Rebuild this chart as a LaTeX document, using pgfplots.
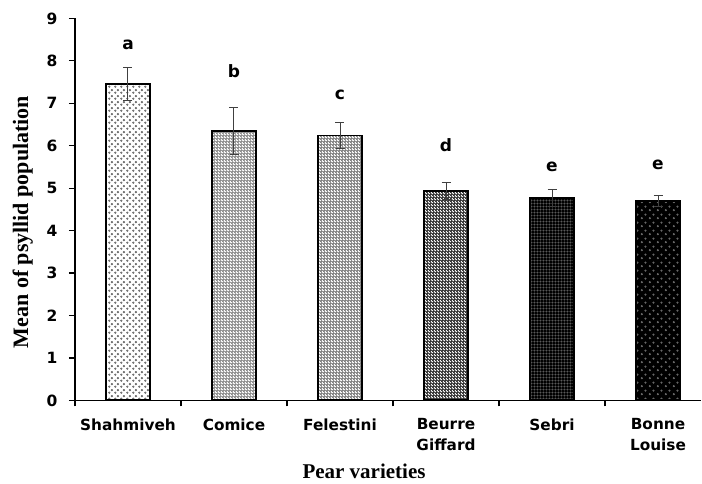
\documentclass[border=0pt]{standalone}
\usepackage{pgfplots}
\pgfplotsset{compat=1.18}
\usepackage{fontspec}
\setmainfont{Liberation Serif}
\newfontfamily\dvs{DejaVu Sans}
\usetikzlibrary{patterns.meta}
\tikzdeclarepattern{
  name=sdots,
  type=uncolored,
  parameters={\sdotd,\sdotr},
  bounding box={(0,0) and (\sdotd,\sdotd)},
  tile size={(\sdotd,\sdotd)},
  defaults={d/.store in=\sdotd, d=4pt, r/.store in=\sdotr, r=0.5pt},
  code={
    \fill (0.25*\sdotd,0.25*\sdotd) circle[radius=\sdotr];
    \fill (0.75*\sdotd,0.75*\sdotd) circle[radius=\sdotr];
  }
}
\tikzdeclarepattern{
  name=gdots,
  type=uncolored,
  parameters={\gdotd,\gdotr},
  bounding box={(0,0) and (\gdotd,\gdotd)},
  tile size={(\gdotd,\gdotd)},
  defaults={d/.store in=\gdotd, d=4pt, r/.store in=\gdotr, r=0.5pt},
  code={
    \fill (0.5*\gdotd,0.5*\gdotd) circle[radius=\gdotr];
  }
}
\begin{document}
\begin{tikzpicture}
\begin{axis}[
  scale only axis,
  width=626pt, height=382pt,
  xmin=-0.5, xmax=5.4057,
  ymin=0, ymax=9,
  axis x line*=bottom, axis y line*=left,
  axis line style={-, line width=1.3pt, black},
  xtick={0,1,2,3,4,5},
  xticklabels={Shahmiveh, Comice, Felestini, {Beurre\\Giffard}, Sebri, {Bonne\\Louise}},
  major x tick style={draw=none},
  minor xtick={-0.5,0.5,1.5,2.5,3.5,4.5},
  minor x tick style={line width=1.3pt, black},
  ytick={0,1,...,9},
  major y tick style={line width=1.3pt, black},
  tick align=outside,
  major tick length=6pt, minor tick length=6pt,
  /pgf/number format/assume math mode=true,
  yticklabel style={font=\dvs\bfseries\fontsize{15.5}{17}\selectfont, xshift=-8pt},
  xticklabel style={font=\dvs\bfseries\fontsize{15.3}{20.5}\selectfont, align=center, anchor=north, inner sep=0pt, yshift=-12pt},
  xlabel={Pear varieties},
  ylabel={Mean of psyllid population},
  xlabel style={font=\bfseries\fontsize{21}{24}\selectfont, at={(axis description cs:0.4617,-0.2055)}, anchor=base},
  ylabel style={font=\bfseries\fontsize{22}{24}\selectfont, at={(axis description cs:-0.075,0.467)}, anchor=base},
  every axis plot/.append style={bar width=43.5pt, bar shift=0pt},
  clip=false,
]
% Shahmiveh
\addplot[ybar, draw=black, line width=1.8pt, preaction={fill=white}, pattern color=black!55, pattern={sdots[d=6pt,r=0.55pt]},
  error bars/.cd, y dir=both, y explicit,
  error bar style={line width=1pt, black!75},
  error mark options={rotate=90, mark size=4.5pt, line width=1pt, black!75}]
  coordinates {(0,7.45) +- (0,0.39)};
% Comice
\addplot[ybar, draw=black, line width=1.8pt, preaction={fill=white}, pattern color=black!45, pattern={sdots[d=2.6pt,r=0.5pt]},
  error bars/.cd, y dir=both, y explicit,
  error bar style={line width=1pt, black!75},
  error mark options={rotate=90, mark size=4.5pt, line width=1pt, black!75}]
  coordinates {(1,6.35) +- (0,0.55)};
% Felestini
\addplot[ybar, draw=black, line width=1.8pt, preaction={fill=white}, pattern color=black!50, pattern={sdots[d=2.6pt,r=0.55pt]},
  error bars/.cd, y dir=both, y explicit,
  error bar style={line width=1pt, black!75},
  error mark options={rotate=90, mark size=4.5pt, line width=1pt, black!75}]
  coordinates {(2,6.24) +- (0,0.31)};
% Beurre Giffard
\addplot[ybar, draw=black, line width=1.8pt, preaction={fill=white}, pattern color=black!80, pattern={sdots[d=3pt,r=0.75pt]},
  error bars/.cd, y dir=both, y explicit,
  error bar style={line width=1pt, black!75},
  error mark options={rotate=90, mark size=4.5pt, line width=1pt, black!75}]
  coordinates {(3,4.93) +- (0,0.20)};
% Sebri
\addplot[ybar, draw=black, line width=1.8pt, preaction={fill=black}, pattern color=black!65, pattern={gdots[d=3.4pt,r=0.38pt]},
  error bars/.cd, y dir=both, y explicit,
  error bar style={line width=1pt, black!75},
  error mark options={rotate=90, mark size=4.5pt, line width=1pt, black!75}]
  coordinates {(4,4.77) +- (0,0.20)};
% Bonne Louise
\addplot[ybar, draw=black, line width=1.8pt, preaction={fill=black}, pattern color=black!60, pattern={sdots[d=8pt,r=0.45pt]},
  error bars/.cd, y dir=both, y explicit,
  error bar style={line width=1pt, black!75},
  error mark options={rotate=90, mark size=4.5pt, line width=1pt, black!75}]
  coordinates {(5,4.70) +- (0,0.12)};
% significance letters
\addplot[draw=none, mark=none, nodes near coords, point meta=explicit symbolic,
  nodes near coords style={anchor=base, font=\dvs\bfseries\fontsize{17}{19}\selectfont, inner sep=0pt}]
  coordinates {(0,8.27)[a] (1,7.61)[b] (2,7.10)[c] (3,5.86)[d] (4,5.39)[e] (5,5.43)[e]};
\coordinate (O) at (rel axis cs:0,0);
\end{axis}
\pgfresetboundingbox
\useasboundingbox (O) ++(-75pt,-83.6pt) rectangle ++(702pt,484pt);
\end{tikzpicture}
\end{document}
